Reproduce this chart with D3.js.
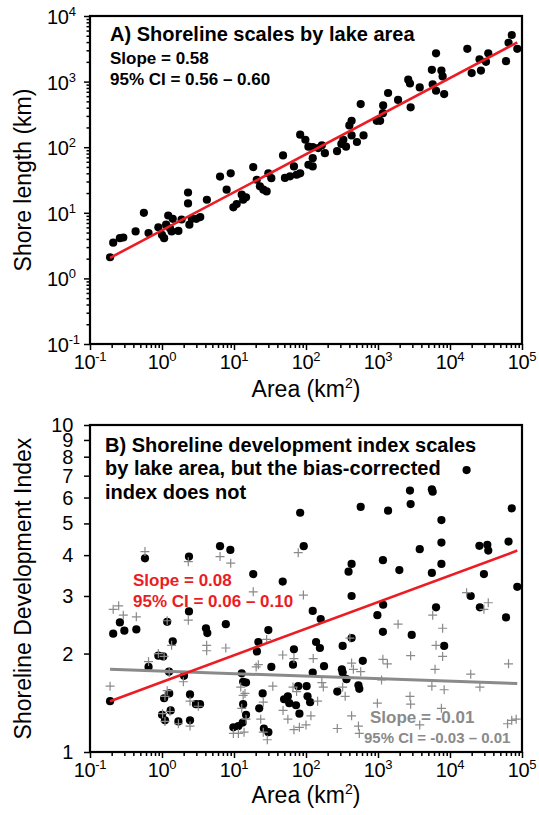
<!DOCTYPE html>
<html><head><meta charset="utf-8">
<script src="https://cdn.jsdelivr.net/npm/d3@7"></script>
<style>
body{margin:0;background:#fff}
svg{display:block}
text{font-family:"Liberation Sans",Arial,Helvetica,sans-serif}
</style>
</head><body>
<svg id="c" width="539" height="815"></svg>
<script>
// ---------- Panel A data: lake area (km2) vs shore length (km)
const areaA = [0.19,0.21,0.26,0.29,0.43,0.56,0.65,0.89,1.0,1.07,1.14,1.22,1.36,1.41,1.29,1.69,1.87,2.3,2.3,2.4,2.6,3.0,3.4,4.2,6.4,9.0,7.9,9.8,10.9,12.8,13.4,14.7,18.5,20.7,22.9,25.6,28.4,30,33,48,51,60,68,74,83,83,98,108,108,124,124,124,148,166,183,270,310,330,360,400,430,430,510,630,575,960,1070,1170,1180,1380,1900,2630,2780,2840,3800,5600,5750,6400,6400,7600,7900,8300,17400,20000,25700,26900,31600,34000,60000,65000,72000,86000];
const shoreA = [2.1,3.5,4.1,4.2,5.2,10,4.9,6.0,4.6,4.1,6.6,9.1,5.2,8.1,5.8,5.3,7.9,20.4,13.9,6.6,8.1,8.1,8.6,15.8,35.7,40,22.5,12.1,13.6,18.9,15.8,17.2,49.7,31.9,25.3,22.5,21.2,40,33.7,75,34,36,51,38,40,155,130,102,54,51,68,100,97,107,81,87,112,130,102,215,252,151,120,151,455,252,252,330,434,670,525,1070,935,405,815,1510,910,2700,725,1470,1200,645,3160,1350,2190,1470,2000,2700,2050,3900,5130,3160];
const fitLineAreaA = [0.19, 86000];
const fitLineShoreA = [2.06, 3950];

// ---------- Panel B data: shoreline development index (black) and bias-corrected index (grey)
const areaB = [0.19,0.21,0.26,0.30,0.44,0.58,0.65,0.89,1.04,1.18,1.07,1.26,1.0,1.10,1.32,1.25,1.41,1.69,2.37,2.37,2.02,2.45,2.45,2.96,3.37,4.08,4.26,6.4,8.9,7.7,18.5,21.8,20.8,30,33,12.8,13.4,14.7,13.4,14.7,9.8,11.5,13.2,25,22.4,26,30,47.5,68,66,78,49.6,56,58.6,72.7,81,93,83,124,160,138,156,178,124,102,105,114,323,430,315,323,365,272,535,550,615,430,390,430,575,1170,980,1180,1170,1380,1980,2940,2780,2840,3800,5600,5750,7600,7600,7600,5600,6400,8300,17000,19400,25600,33000,34000,29600,26000,60000,65000,72000,86000];
const sdiB = [1.43,2.30,2.49,2.35,2.37,3.91,1.82,1.97,1.96,2.50,1.46,1.51,1.30,1.25,1.34,1.76,2.18,1.24,3.96,2.69,1.71,1.50,1.25,1.40,1.40,2.39,2.31,4.26,4.15,2.46,3.50,2.17,2.03,2.36,1.82,1.74,1.64,1.63,1.40,1.30,1.19,1.20,1.23,1.51,1.36,1.18,1.15,3.32,2.06,1.85,1.59,1.45,1.48,1.41,1.39,1.31,4.26,5.39,2.70,2.55,2.17,2.08,1.83,1.75,1.59,1.48,1.42,2.11,2.23,1.79,1.75,1.67,1.53,1.60,1.56,1.90,3.00,3.56,3.76,5.62,2.33,2.62,2.82,3.86,5.47,3.60,2.28,6.30,5.73,4.17,6.36,6.25,5.12,4.37,3.76,3.53,2.77,2.11,7.28,3.00,4.27,4.30,4.13,3.50,2.77,2.58,4.40,5.56,3.20];
const areaC = [0.19,0.21,0.25,0.29,0.44,0.58,0.65,0.89,1.07,1.18,1.10,1.18,1.02,1.10,1.29,1.26,1.36,1.69,2.32,2.32,1.98,2.45,2.45,3.19,4.17,4.17,6.4,9.0,7.7,18.5,21.8,20.3,28.4,34.6,12.4,13.4,14.2,12.8,14.7,9.8,11.5,13.8,25.5,23.5,25.5,29,47.5,68,66,74,48,56,68,81,78,92,126,166,174,145,117,100,407,430,455,575,323,350,272,430,535,550,1170,1350,1120,980,1900,2840,2780,2840,3800,5750,7900,6400,7900,6200,5600,8300,7600,17000,34000,29600,19400,26000,65000,63000,72000,83000];
const sdiC = [1.59,2.73,2.80,2.62,2.59,4.10,1.89,2.00,1.96,2.52,1.48,1.54,1.31,1.24,1.33,1.75,2.12,1.22,3.82,2.53,1.64,1.43,1.20,1.38,2.12,2.04,3.96,3.78,2.08,3.09,1.85,1.82,2.21,1.59,1.58,1.49,1.51,1.36,1.26,1.14,1.14,1.15,1.42,1.26,1.15,1.09,1.98,1.93,1.58,1.53,1.34,1.26,1.17,1.19,4.07,3.02,1.93,1.63,1.58,1.43,1.29,1.21,2.23,1.87,1.79,1.76,1.58,1.48,1.18,1.29,1.20,1.14,1.92,1.86,1.66,1.41,2.46,1.97,1.48,1.40,1.21,2.62,2.39,2.12,1.96,1.79,1.59,1.55,1.36,3.07,2.86,2.73,1.73,1.58,1.86,1.22,1.25,1.26];
const fitLineAreaB = [0.19, 86000];
const fitLineSdiB = [1.43, 4.13];
const fitLineSdiC = [1.79, 1.62];

// ---------- tick labels
const xTickExps = [-1,0,1,2,3,4,5];
const yTickExpsA = [-1,0,1,2,3,4];
const yTicksB = [1,2,3,4,5,6,7,8,9,10];

const RED = "#ec1c24", GREY = "#8a8a8a";
const svg = d3.select("#c");

const L = 90, R = 522;
const x = d3.scaleLog().domain([0.1, 1e5]).range([L, R]);
const yA = d3.scaleLog().domain([0.1, 1e4]).range([344, 16]);
const yB = d3.scaleLog().domain([1, 10]).range([752, 425]);

function minorTicks(lo, hi) {
  const out = [];
  for (let e = lo; e < hi; e++) for (let m = 2; m <= 9; m++) out.push(m * Math.pow(10, e));
  return out;
}
const majX = xTickExps.map(e => Math.pow(10, e));

function styleAxis(g) {
  g.select(".domain").remove();
  g.selectAll(".tick line").attr("stroke", "#000").attr("stroke-width", 1.5);
  g.selectAll(".tick text").remove();
}

function xAxis(y0) {
  svg.append("g").attr("transform", `translate(0,${y0})`)
    .call(d3.axisBottom(x).tickValues(minorTicks(-1, 5)).tickSize(4).tickFormat(""))
    .call(styleAxis);
  svg.append("g").attr("transform", `translate(0,${y0})`)
    .call(d3.axisBottom(x).tickValues(majX).tickSize(6).tickFormat(""))
    .call(styleAxis);
  svg.append("g").selectAll("text").data(xTickExps).join("text")
    .attr("x", e => x(Math.pow(10, e))).attr("y", y0 + 25)
    .attr("text-anchor", "middle").attr("font-size", 20).attr("letter-spacing", -0.3)
    .each(function (e) {
      const t = d3.select(this);
      t.append("tspan").text("10");
      t.append("tspan").attr("font-size", 13).attr("dy", -8).text(e < 0 ? "-" + (-e) : e);
    });
}

function frame(top, bottom) {
  svg.append("rect").attr("x", L).attr("y", top).attr("width", R - L).attr("height", bottom - top)
    .attr("fill", "none").attr("stroke", "#000").attr("stroke-width", 2.2);
}

// ================= Panel A =================
// y axis ticks
svg.append("g").attr("transform", `translate(${L},0)`)
  .call(d3.axisLeft(yA).tickValues(minorTicks(-1, 4)).tickSize(3.5).tickFormat(""))
  .call(styleAxis);
svg.append("g").attr("transform", `translate(${L},0)`)
  .call(d3.axisLeft(yA).tickValues(yTickExpsA.map(e => Math.pow(10, e))).tickSize(6).tickFormat(""))
  .call(styleAxis);
svg.append("g").selectAll("text").data(yTickExpsA).join("text")
  .attr("x", 47).attr("y", e => yA(Math.pow(10, e)) + 8)
  .attr("font-size", 20).attr("letter-spacing", -0.3)
  .each(function (e) {
    const t = d3.select(this);
    t.append("tspan").text("10");
    t.append("tspan").attr("font-size", 13).attr("dy", -8).text(e < 0 ? "-" + (-e) : e);
  });
xAxis(344);

svg.append("g").selectAll("circle").data(areaA.map((a, i) => [a, shoreA[i]])).join("circle")
  .attr("cx", d => x(d[0])).attr("cy", d => yA(d[1])).attr("r", 4.1).attr("fill", "#000");

svg.append("path")
  .datum(fitLineAreaA.map((a, i) => [a, fitLineShoreA[i]]))
  .attr("d", d3.line().x(d => x(d[0])).y(d => yA(d[1])))
  .attr("stroke", RED).attr("stroke-width", 2.6).attr("fill", "none");
frame(16, 344);

svg.append("text").attr("x", 110).attr("y", 41).attr("font-size", 20).attr("font-weight", "bold")
  .text("A) Shoreline scales by lake area");
svg.append("text").attr("x", 110).attr("y", 64).attr("font-size", 17).attr("font-weight", "bold")
  .text("Slope = 0.58");
svg.append("text").attr("x", 110).attr("y", 85).attr("font-size", 17).attr("font-weight", "bold")
  .text("95% CI = 0.56 \u2013 0.60");

svg.append("text").attr("transform", `translate(31,${(16 + 344) / 2}) rotate(-90)`)
  .attr("text-anchor", "middle").attr("font-size", 23).text("Shore length (km)");

function xLabel(yb) {
  const t = svg.append("text").attr("x", (L + R) / 2).attr("y", yb)
    .attr("text-anchor", "middle").attr("font-size", 23);
  t.append("tspan").text("Area (km");
  t.append("tspan").attr("font-size", 14).attr("dy", -9).text("2");
  t.append("tspan").attr("dy", 9).text(")");
}
xLabel(397);

// ================= Panel B =================
svg.append("g").attr("transform", `translate(${L},0)`)
  .call(d3.axisLeft(yB).tickValues(yTicksB).tickSize(6).tickFormat(""))
  .call(styleAxis);
svg.append("g").selectAll("text").data(yTicksB).join("text")
  .attr("x", 73).attr("y", d => yB(d) + 7)
  .attr("text-anchor", "end").attr("font-size", 20).attr("letter-spacing", -0.3)
  .text(d => d);
xAxis(752);

svg.append("g").selectAll("circle").data(areaB.map((a, i) => [a, sdiB[i]])).join("circle")
  .attr("cx", d => x(d[0])).attr("cy", d => yB(d[1])).attr("r", 4.1).attr("fill", "#000");

const cs = 4.5;
svg.append("g").selectAll("path").data(areaC.map((a, i) => [a, sdiC[i]])).join("path")
  .attr("d", d => {
    const cx = x(d[0]), cy = yB(d[1]);
    return `M${cx - cs},${cy}H${cx + cs}M${cx},${cy - cs}V${cy + cs}`;
  })
  .attr("stroke", GREY).attr("stroke-width", 1.2).attr("fill", "none");

const lineB = d3.line().x(d => x(d[0])).y(d => yB(d[1]));
svg.append("path").datum(fitLineAreaB.map((a, i) => [a, fitLineSdiC[i]]))
  .attr("d", lineB).attr("stroke", GREY).attr("stroke-width", 3).attr("fill", "none");
svg.append("path").datum(fitLineAreaB.map((a, i) => [a, fitLineSdiB[i]]))
  .attr("d", lineB).attr("stroke", RED).attr("stroke-width", 2.6).attr("fill", "none");
frame(425, 752);

const titleB = ["B) Shoreline development index scales", "by lake area, but the bias-corrected", "index does not"];
svg.append("g").selectAll("text").data(titleB).join("text")
  .attr("x", 105).attr("y", (d, i) => 452 + i * 23.3)
  .attr("font-size", 20).attr("font-weight", "bold").text(d => d);

svg.append("text").attr("x", 133).attr("y", 586).attr("font-size", 17).attr("font-weight", "bold")
  .attr("fill", RED).text("Slope = 0.08");
svg.append("text").attr("x", 133).attr("y", 607).attr("font-size", 17).attr("font-weight", "bold")
  .attr("fill", RED).text("95% CI = 0.06 \u2013 0.10");
svg.append("text").attr("x", 370).attr("y", 723).attr("font-size", 17).attr("font-weight", "bold")
  .attr("fill", GREY).text("Slope = -0.01");
svg.append("text").attr("x", 364).attr("y", 743).attr("font-size", 15).attr("font-weight", "bold")
  .attr("fill", GREY).text("95% CI = -0.03 \u2013 0.01");

svg.append("text").attr("transform", `translate(31,${(425 + 752) / 2}) rotate(-90)`)
  .attr("text-anchor", "middle").attr("font-size", 23).text("Shoreline Development Index");
xLabel(803);
</script>
</body></html>
